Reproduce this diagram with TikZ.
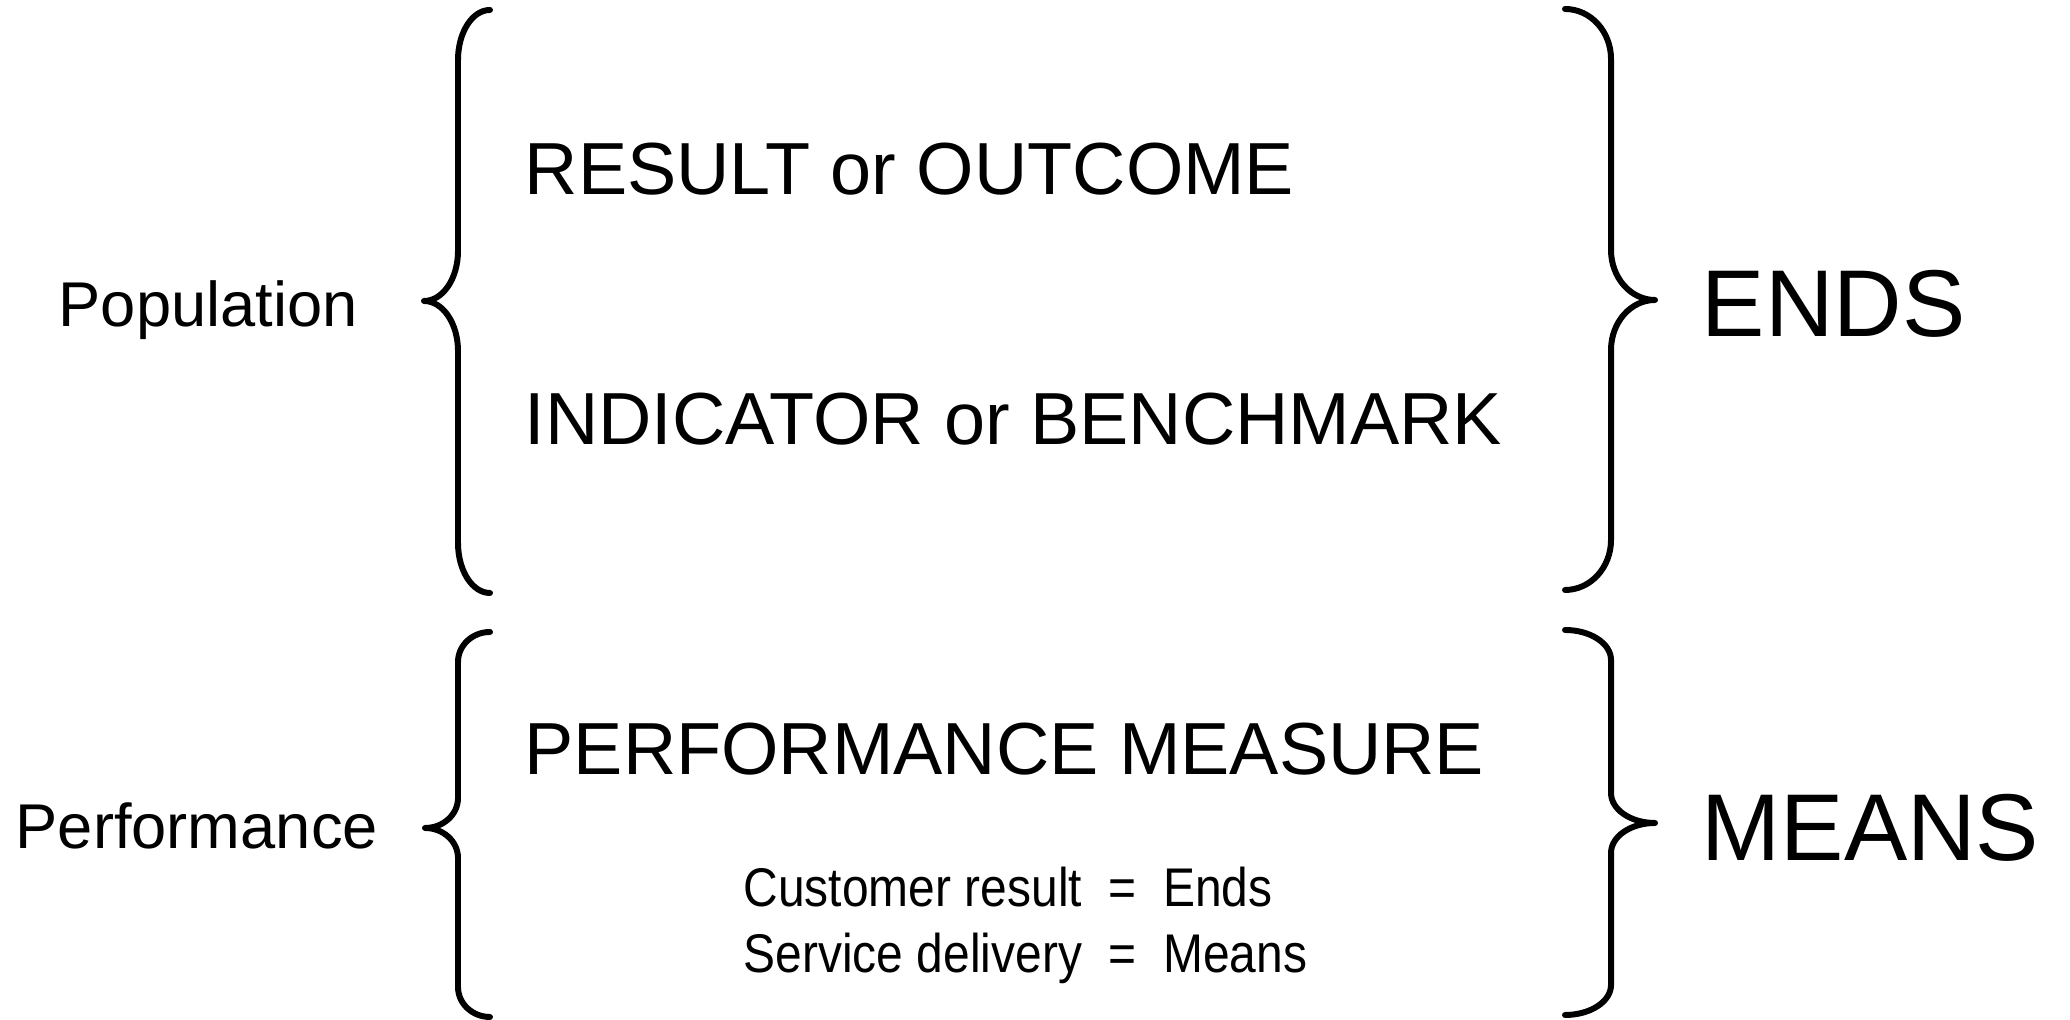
\documentclass[tikz,border=0pt]{standalone}
\usepackage{fontspec}
\setmainfont{Liberation Sans}
\newfontfamily\narrowsans[FakeStretch=0.88]{Liberation Sans}
\usepackage{tikz}
\usetikzlibrary{positioning}
\tikzstyle{side} = [anchor=base west, inner sep=0pt, font=\fontsize{18}{22}\selectfont]
\tikzstyle{item} = [anchor=base west, inner sep=0pt, font=\fontsize{21}{25}\selectfont]
\tikzstyle{big} = [anchor=base west, inner sep=0pt, font=\fontsize{27}{32}\selectfont]
\tikzstyle{note} = [anchor=base west, inner sep=0pt, font=\narrowsans\fontsize{15.5}{19}\selectfont]
\tikzstyle{bracestroke} = [line width=1.7pt, line cap=round, line join=round]

% opening brace: end x, stem x, tip x, top y, tip y, bottom y, curve height
\newcommand{\leftcurly}[7]{%
  \draw[bracestroke] (#1,#4)
    arc[start angle=90, end angle=180, x radius=#1-#2, y radius=#7]
    -- (#2,#5+#7)
    arc[start angle=0, end angle=-90, x radius=#2-#3, y radius=#7]
    arc[start angle=90, end angle=0, x radius=#2-#3, y radius=#7]
    -- (#2,#6+#7)
    arc[start angle=180, end angle=270, x radius=#1-#2, y radius=#7];}
% closing brace, same arguments
\newcommand{\rightcurly}[7]{%
  \draw[bracestroke] (#1,#4)
    arc[start angle=90, end angle=0, x radius=#2-#1, y radius=#7]
    -- (#2,#5+#7)
    arc[start angle=180, end angle=270, x radius=#3-#2, y radius=#7]
    arc[start angle=90, end angle=180, x radius=#3-#2, y radius=#7]
    -- (#2,#6+#7)
    arc[start angle=0, end angle=-90, x radius=#2-#1, y radius=#7];}

\begin{document}
\begin{tikzpicture}
\useasboundingbox (0,0) rectangle (20.7,10.2);

% upper group
\node (pop) [side] at (0.58,6.93) {Population};
\node (result) [item] at (5.24,8.25) {RESULT or OUTCOME};
\node (indicator) [item] at (5.24,5.75) {INDICATOR or BENCHMARK};
\node (ends) [big] at (17.01,6.83) {ENDS};
\leftcurly{4.90}{4.58}{4.24}{10.10}{7.19}{4.27}{0.5}
\rightcurly{15.65}{16.11}{16.55}{10.11}{7.20}{4.30}{0.5}

% lower group
\node (perf) [side] at (0.15,1.71) {Performance};
\node (measure) [item] at (5.24,2.45) {PERFORMANCE MEASURE};
\node (means) [big] at (17.01,1.59) {MEANS};
\node (custom) [note] at (7.43,1.13) {Customer result \ = \ Ends};
\node (service) [note] at (7.43,0.47) {Service delivery \ = \ Means};
\leftcurly{4.90}{4.58}{4.25}{3.88}{1.92}{0.03}{0.3}
\rightcurly{15.65}{16.11}{16.55}{3.90}{1.97}{0.05}{0.3}
\end{tikzpicture}
\end{document}
